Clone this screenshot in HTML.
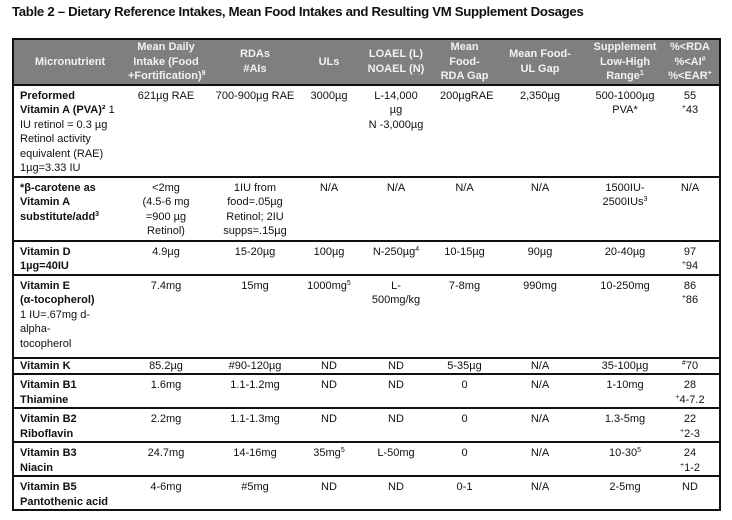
<!DOCTYPE html>
<html><head><meta charset="utf-8"><style>
body{margin:0;background:#fff;width:732px;height:520px;overflow:hidden;font-family:"Liberation Sans",sans-serif;color:#111}
h1{position:absolute;left:12px;top:4px;margin:0;font-size:13.2px;font-weight:bold;letter-spacing:-0.3px}
table{position:absolute;left:12px;top:38px;width:707px;border-collapse:collapse;table-layout:fixed;border:2px solid #111;font-size:11px;line-height:14.5px}
td,th{padding:3px 2px 0 2px;vertical-align:top;text-align:center;white-space:nowrap;overflow:visible}
th{background:#7f7f7f;color:#f2f2f2;font-weight:bold;vertical-align:middle;padding:0 2px}
tr{border-bottom:2px solid #111}
td:first-child{text-align:left;padding-left:6px}
b{font-weight:bold}
sup{font-size:7px;line-height:0;vertical-align:4px}
</style></head><body>
<h1>Table 2 – Dietary Reference Intakes, Mean Food Intakes and Resulting VM Supplement Dosages</h1>
<table>
<colgroup><col style="width:113px"><col style="width:80px"><col style="width:98px"><col style="width:50px"><col style="width:84px"><col style="width:53px"><col style="width:98px"><col style="width:72px"><col style="width:59px"></colgroup>
<tr style="height:45px"><th style="text-align:center">Micronutrient</th><th>Mean Daily<br>Intake (Food<br>+Fortification)<sup>9</sup></th><th>RDAs<br>#AIs</th><th>ULs</th><th>LOAEL (L)<br>NOAEL (N)</th><th>Mean<br>Food-<br>RDA Gap</th><th>Mean Food-<br>UL Gap</th><th>Supplement<br>Low-High<br>Range<sup>1</sup></th><th>%&lt;RDA<br>%&lt;AI<sup>#</sup><br>%&lt;EAR<sup>+</sup></th></tr>
<tr style="height:88px"><td><b>Preformed<br>Vitamin A (PVA)² </b>1<br>IU retinol = 0.3 µg<br>Retinol activity<br>equivalent (RAE)<br>1µg=3.33 IU</td><td>621µg RAE</td><td>700-900µg RAE</td><td>3000µg</td><td>L-14,000<br>µg<br>N -3,000µg</td><td>200µgRAE</td><td>2,350µg</td><td>500-1000µg<br>PVA*</td><td>55<br><sup>+</sup>43</td></tr>
<tr style="height:64px"><td><b>*β-carotene as<br>Vitamin A<br>substitute/add<sup>3</sup></b></td><td>&lt;2mg<br>(4.5-6 mg<br>=900 µg<br>Retinol)</td><td>1IU from<br>food=.05µg<br>Retinol; 2IU<br>supps=.15µg</td><td>N/A</td><td>N/A</td><td>N/A</td><td>N/A</td><td>1500IU-<br>2500IUs<sup>3</sup></td><td>N/A</td></tr>
<tr style="height:33px"><td><b>Vitamin D<br>1µg=40IU</b></td><td>4.9µg</td><td>15-20µg</td><td>100µg</td><td>N-250µg<sup>4</sup></td><td>10-15µg</td><td>90µg</td><td>20-40µg</td><td>97<br><sup>+</sup>94</td></tr>
<tr style="height:83px"><td><b>Vitamin E<br>(α-tocopherol)</b><br>1 IU=.67mg d-<br>alpha-<br>tocopherol</td><td>7.4mg</td><td>15mg</td><td>1000mg<sup>5</sup></td><td>L-<br>500mg/kg</td><td>7-8mg</td><td>990mg</td><td>10-250mg</td><td>86<br><sup>+</sup>86</td></tr>
<tr style="height:15px"><td style="padding-top:0"><b>Vitamin K</b></td><td style="padding-top:0">85.2µg</td><td style="padding-top:0">#90-120µg</td><td style="padding-top:0">ND</td><td style="padding-top:0">ND</td><td style="padding-top:0">5-35µg</td><td style="padding-top:0">N/A</td><td style="padding-top:0">35-100µg</td><td style="padding-top:0"><sup>#</sup>70</td></tr>
<tr style="height:34px"><td><b>Vitamin B1<br>Thiamine</b></td><td>1.6mg</td><td>1.1-1.2mg</td><td>ND</td><td>ND</td><td>0</td><td>N/A</td><td>1-10mg</td><td>28<br><sup>+</sup>4-7.2</td></tr>
<tr style="height:33px"><td><b>Vitamin B2<br>Riboflavin</b></td><td>2.2mg</td><td>1.1-1.3mg</td><td>ND</td><td>ND</td><td>0</td><td>N/A</td><td>1.3-5mg</td><td>22<br><sup>+</sup>2-3</td></tr>
<tr style="height:33px"><td><b>Vitamin B3<br>Niacin</b></td><td>24.7mg</td><td>14-16mg</td><td>35mg<sup>5</sup></td><td>L-50mg</td><td>0</td><td>N/A</td><td>10-30<sup>5</sup></td><td>24<br><sup>+</sup>1-2</td></tr>
<tr style="height:32px"><td><b>Vitamin B5<br>Pantothenic acid</b></td><td>4-6mg</td><td>#5mg</td><td>ND</td><td>ND</td><td>0-1</td><td>N/A</td><td>2-5mg</td><td>ND</td></tr>
</table>
</body></html>
